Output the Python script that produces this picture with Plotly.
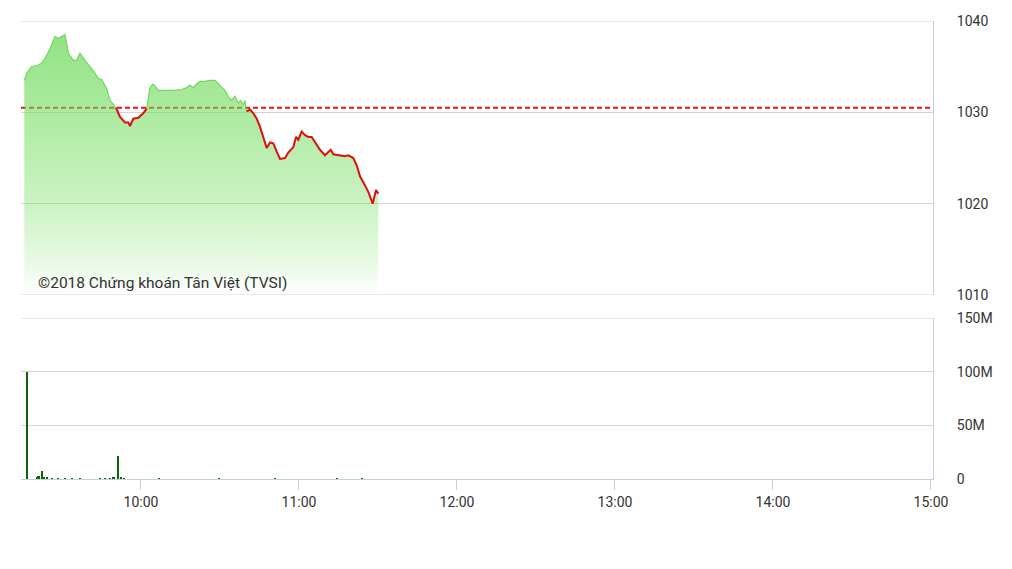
import plotly.graph_objects as go

DAY = "2018-01-01 "

# Index line (time, value)
price_times = [
    "09:15:41", "09:16:36", "09:18:30", "09:20:26", "09:22:18", "09:23:33", "09:25:27", "09:27:21",
    "09:28:36", "09:29:53", "09:31:09", "09:32:24", "09:34:18", "09:35:35", "09:36:50", "09:38:44",
    "09:40:38", "09:42:32", "09:43:47", "09:45:05", "09:46:59", "09:48:14", "09:50:31", "09:52:02",
    "09:53:56", "09:55:11", "09:55:49", "09:57:05", "09:58:59", "10:00:52", "10:02:10", "10:03:25",
    "10:04:27", "10:05:19", "10:06:34", "10:07:52", "10:09:46", "10:12:16", "10:15:28", "10:17:21",
    "10:18:37", "10:19:52", "10:21:09", "10:22:24", "10:24:18", "10:26:12", "10:28:06", "10:30:00",
    "10:31:54", "10:33:09", "10:34:27", "10:35:42", "10:36:57", "10:37:52", "10:38:51", "10:39:30",
    "10:40:09", "10:41:24", "10:42:39", "10:43:57", "10:45:12", "10:46:27", "10:47:44", "10:49:00",
    "10:50:15", "10:51:32", "10:52:47", "10:54:41", "10:55:57", "10:57:51", "10:58:52", "10:59:44",
    "11:01:01", "11:02:17", "11:03:32", "11:04:49", "11:06:05", "11:07:58", "11:09:52", "11:11:08",
    "11:12:03", "11:13:01", "11:15:34", "11:17:28", "11:18:43", "11:20:37", "11:21:55", "11:23:10",
    "11:25:04", "11:26:19", "11:28:00", "11:29:15", "11:30:07",
]
price_values = [
    1033.5, 1034.3, 1035.0, 1035.1, 1035.4, 1035.9, 1037.0, 1038.3,
    1038.1, 1038.3, 1038.5, 1036.5, 1035.7, 1035.7, 1036.5, 1035.7,
    1035.0, 1034.3, 1033.7, 1033.6, 1032.6, 1031.3, 1030.5, 1029.5,
    1028.9, 1028.9, 1028.5, 1029.3, 1029.4, 1029.9, 1030.4, 1032.7,
    1033.1, 1032.9, 1032.4, 1032.4, 1032.4, 1032.4, 1032.5, 1032.7,
    1033.0, 1032.7, 1033.1, 1033.4, 1033.4, 1033.5, 1033.5, 1033.0,
    1032.4, 1031.7, 1031.3, 1031.8, 1031.0, 1031.3, 1030.8, 1031.3,
    1030.1, 1030.3, 1029.9, 1029.3, 1028.4, 1027.3, 1026.1, 1026.7,
    1026.6, 1025.7, 1024.9, 1025.0, 1025.6, 1026.2, 1027.3, 1027.0,
    1027.9, 1027.5, 1027.3, 1027.3, 1026.7, 1025.9, 1025.3, 1025.6,
    1025.9, 1025.4, 1025.3, 1025.2, 1025.3, 1025.0, 1024.2, 1023.0,
    1022.0, 1021.3, 1020.0, 1021.5, 1021.1,
]
reference_value = 1030.5

# Volume bars
volume_times = [
    "09:16:42", "09:20:36", "09:21:10", "09:22:24", "09:23:12", "09:24:24", "09:26:12", "09:28:30",
    "09:31:06", "09:33:48", "09:36:48", "09:44:24", "09:46:18", "09:48:12", "09:49:42", "09:51:30",
    "09:52:24", "09:53:30", "10:06:48", "10:29:36", "10:50:54", "11:14:24", "11:23:54",
]
volume_values = [
    100e6, 2e6, 3e6, 7.5e6, 2e6, 1e6, 0.6e6, 0.6e6,
    0.5e6, 0.5e6, 0.6e6, 0.6e6, 0.6e6, 0.8e6, 1.2e6, 21e6,
    1.5e6, 0.8e6, 0.5e6, 0.5e6, 0.5e6, 0.5e6, 0.5e6,
]

hour_ticks = ["10:00", "11:00", "12:00", "13:00", "14:00", "15:00"]
price_ticks = [1010, 1020, 1030, 1040]
volume_tickvals = [0, 50e6, 100e6, 150e6]
volume_ticktext = ["0", "50M", "100M", "150M"]
watermark = "©2018 Chứng khoán Tân Việt (TVSI)"

px_t = [DAY + t for t in price_times]
vol_t = [DAY + t for t in volume_times]
red_vals = [v if v <= reference_value else None for v in price_values]

GRID = "#d4d4d4"
AXIS = "#c3d0e0"
FONT = "Roboto, 'Noto Sans', sans-serif"

fig = go.Figure()

fig.add_trace(go.Scatter(
    x=px_t, y=price_values, mode="lines",
    line=dict(color="rgba(105,212,88,0.9)", width=1.2),
    fill="tozeroy",
    fillgradient=dict(
        type="vertical", start=1010, stop=1039,
        colorscale=[
            [0.0, "rgba(120,225,100,0.0)"],
            [0.1, "rgba(120,225,100,0.14)"],
            [0.35, "rgba(115,222,95,0.38)"],
            [0.65, "rgba(110,220,90,0.55)"],
            [1.0, "rgba(100,215,80,0.72)"],
        ],
    ),
    xaxis="x", yaxis="y", hoverinfo="skip", showlegend=False,
))

fig.add_trace(go.Scatter(
    x=px_t, y=red_vals, mode="lines", connectgaps=False,
    line=dict(color="#e01010", width=2),
    xaxis="x", yaxis="y", showlegend=False,
))

fig.add_trace(go.Bar(
    x=vol_t, y=volume_values, width=40000,
    marker=dict(color="#0b640b", line=dict(width=0)),
    xaxis="x2", yaxis="y2", showlegend=False,
))

x_range = [DAY + "09:14:26", DAY + "15:00:46"]
tickvals = [DAY + t for t in hour_ticks]

# page body has an 8px default margin: figure is sized/margined to compensate
fig.update_layout(
    width=996, height=553,
    margin=dict(l=13, r=71, t=13, b=82, autoexpand=False),
    paper_bgcolor="white", plot_bgcolor="white",
    font=dict(family=FONT, size=14, color="#333333"),
    bargap=0,
    xaxis=dict(
        domain=[0, 1], range=x_range, type="date", anchor="y", automargin=False,
        showticklabels=False, showgrid=False, zeroline=False, showline=False, ticks="",
    ),
    yaxis=dict(
        domain=[0.4017, 1], range=[1010, 1040], side="right", anchor="x", automargin=False,
        tickvals=price_ticks, showgrid=True, gridcolor=GRID, gridwidth=1,
        zeroline=False, showline=True, linecolor=AXIS, linewidth=1,
        ticks="outside", ticklen=20, tickcolor="rgba(0,0,0,0)",
        tickfont=dict(family=FONT, size=14, color="#333333"),
    ),
    xaxis2=dict(
        domain=[0, 1], range=x_range, type="date", anchor="y2", matches="x", automargin=False,
        tickvals=tickvals, tickformat="%H:%M", showgrid=False, zeroline=False,
        showline=True, linecolor=AXIS, linewidth=1,
        ticks="outside", ticklen=10, tickcolor=AXIS,
        tickfont=dict(family=FONT, size=14, color="#333333"),
    ),
    yaxis2=dict(
        domain=[0, 0.3515], range=[0, 150e6], side="right", anchor="x2", automargin=False,
        tickvals=volume_tickvals, ticktext=volume_ticktext,
        showgrid=True, gridcolor=GRID, gridwidth=1, zeroline=False,
        showline=True, linecolor=AXIS, linewidth=1,
        ticks="outside", ticklen=20, tickcolor="rgba(0,0,0,0)",
        tickfont=dict(family=FONT, size=14, color="#333333"),
    ),
    shapes=[
        dict(type="line", xref="paper", yref="y", x0=0, x1=1, y0=reference_value, y1=reference_value,
             line=dict(color="#e8141c", width=2, dash="5px,3px"), layer="below"),
        dict(type="line", xref="paper", yref="y", x0=0, x1=1, y0=1040, y1=1040,
             line=dict(color=GRID, width=1), layer="below"),
        dict(type="line", xref="paper", yref="y", x0=0, x1=1, y0=1010, y1=1010,
             line=dict(color=GRID, width=1), layer="below"),
        dict(type="line", xref="paper", yref="y2", x0=0, x1=1, y0=150e6, y1=150e6,
             line=dict(color=GRID, width=1), layer="below"),
    ],
    annotations=[
        dict(text=watermark, xref="paper", yref="paper", x=0.0164, y=0.428,
             xanchor="left", yanchor="middle", showarrow=False,
             font=dict(family=FONT, size=15.5, color="#333333")),
    ],
)

fig.write_html("out.html")
